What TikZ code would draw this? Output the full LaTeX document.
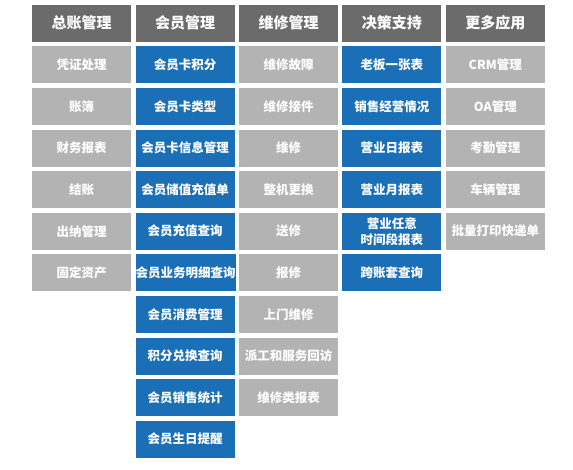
\documentclass[tikz,border=0pt]{standalone}
\usepackage{fontspec}
\setmainfont{Noto Sans CJK SC}
\definecolor{hdrgray}{HTML}{6B6B6B}
\definecolor{cellgray}{HTML}{B3B3B3}
\definecolor{cellblue}{HTML}{1B6FB7}
\begin{document}
\begin{tikzpicture}[x=1pt,y=-1pt,
  box/.style={minimum width=99pt, minimum height=37pt, inner sep=0pt, anchor=north west, align=center, text=white},
  hdr/.style={box, fill=hdrgray, font=\bfseries\fontsize{15}{17}\selectfont},
  gcell/.style={box, fill=cellgray, font=\bfseries\fontsize{12.5}{16}\selectfont},
  bcell/.style={box, fill=cellblue, font=\bfseries\fontsize{12.5}{16}\selectfont}]
\useasboundingbox (0,0) rectangle (573,469);
% headers
\foreach \t [count=\i] in {总账管理,会员管理,维修管理,决策支持,更多应用}
  \node[hdr] (h\i) at ({32+103.4*(\i-1)},4.5) {\t};
% column 1
\foreach \t [count=\j] in {凭证处理,账簿,财务报表,结账,出纳管理,固定资产}
  \node[gcell] (a\j) at (32,{4.5+41.6*\j}) {\t};
% column 2
\foreach \t [count=\j] in {会员卡积分,会员卡类型,会员卡信息管理,会员储值充值单,会员充值查询,会员业务明细查询,会员消费管理,积分兑换查询,会员销售统计,会员生日提醒}
  \node[bcell] (b\j) at (135.4,{4.5+41.6*\j}) {\t};
% column 3
\foreach \t [count=\j] in {维修故障,维修接件,维修,整机更换,送修,报修,上门维修,派工和服务回访,维修类报表}
  \node[gcell] (c\j) at (238.8,{4.5+41.6*\j}) {\t};
% column 4
\foreach \t [count=\j] in {老板一张表,销售经营情况,营业日报表,营业月报表,{营业任意\\时间段报表},跨账套查询}
  \node[bcell] (d\j) at (342.2,{4.5+41.6*\j}) {\t};
% column 5
\foreach \t [count=\j] in {CRM管理,OA管理,考勤管理,车辆管理,批量打印快递单}
  \node[gcell] (e\j) at (445.6,{4.5+41.6*\j}) {\t};
\end{tikzpicture}
\end{document}
